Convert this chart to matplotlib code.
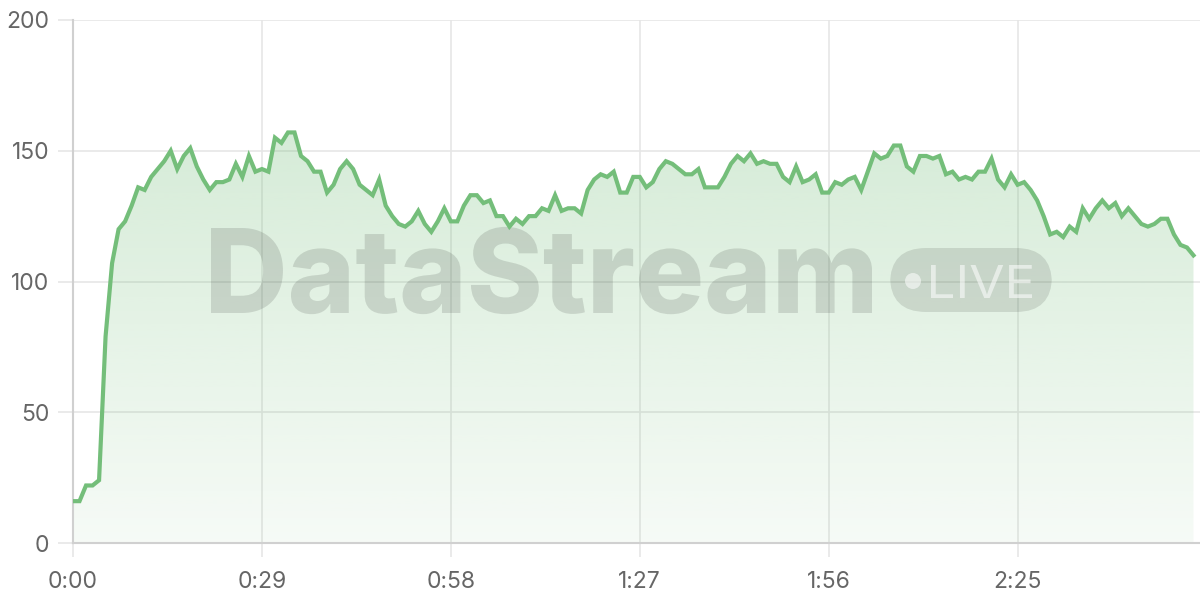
import numpy as np
import matplotlib
matplotlib.use("Agg")
import matplotlib.pyplot as plt
from matplotlib.patches import FancyBboxPatch, Circle, PathPatch
from matplotlib.textpath import TextPath
from matplotlib.font_manager import FontProperties
from matplotlib.transforms import Affine2D
from matplotlib.colors import to_rgb

# valores por segundo
valores = [16, 16, 22, 22, 24, 79, 107, 120, 123, 129,
           136, 135, 140, 143, 146, 150, 143, 148, 151, 144,
           139, 135, 138, 138, 139, 145, 140, 148, 142, 143,
           142, 155, 153, 157, 157, 148, 146, 142, 142, 134,
           137, 143, 146, 143, 137, 135, 133, 139, 129, 125,
           122, 121, 123, 127, 122, 119, 123, 128, 123, 123,
           129, 133, 133, 130, 131, 125, 125, 121, 124, 122,
           125, 125, 128, 127, 133, 127, 128, 128, 126, 135,
           139, 141, 140, 142, 134, 134, 140, 140, 136, 138,
           143, 146, 145, 143, 141, 141, 143, 136, 136, 136,
           140, 145, 148, 146, 149, 145, 146, 145, 145, 140,
           138, 144, 138, 139, 141, 134, 134, 138, 137, 139,
           140, 135, 142, 149, 147, 148, 152, 152, 144, 142,
           148, 148, 147, 148, 141, 142, 139, 140, 139, 142,
           142, 147, 139, 136, 141, 137, 138, 135, 131, 125,
           118, 119, 117, 121, 119, 128, 124, 128, 131, 128,
           130, 125, 128, 125, 122, 121, 122, 124, 124, 118,
           114, 113, 110]
tiempo = np.arange(len(valores))

ticksX = [0, 29, 58, 87, 116, 145]
etiquetasX = ["0:00", "0:29", "0:58", "1:27", "1:56", "2:25"]
ticksY = [0, 50, 100, 150, 200]

verde = "#74be7a"
gris_grid = "#e6e6e6"
gris_texto = "#666666"


def TextoAjustado(ax, texto, x0, x1, ytop, ybase, peso, color, alfa):
    # texto como trazo, escalado a la caja en pixeles (origen arriba)
    tp = TextPath((0, 0), texto, size=100, prop=FontProperties(family="Inter", weight=peso))
    cap = TextPath((0, 0), "H", size=100, prop=FontProperties(family="Inter", weight=peso))
    ext = tp.get_extents()
    alto = cap.get_extents().y1
    sx = (x1 - x0) / ext.width
    sy = (ybase - ytop) / alto
    tr = Affine2D().translate(-ext.x0, 0).scale(sx, sy).translate(x0, 600 - ybase)
    pp = PathPatch(tr.transform_path(tp), transform=None, facecolor=color,
                   alpha=alfa, lw=0, zorder=3)
    ax.add_patch(pp)


fig = plt.figure(figsize=(12, 6), dpi=100)
ax = fig.add_axes([73/1200, 1-543/600, 1-73/1200, (543-20)/600])
ax.set_xlim(0, 173)
ax.set_ylim(0, 200)

# relleno con degradado
poly = ax.fill_between(tiempo, valores, 0, color="none", lw=0)
rgb = to_rgb(verde)
alfa = np.linspace(0.065, 0.36, 256)[:, None]
grad = np.zeros((256, 1, 4))
grad[..., :3] = rgb
grad[..., 3] = alfa
img = ax.imshow(grad, extent=[0, tiempo[-1], 0, 200], origin="lower",
                aspect="auto", zorder=1, interpolation="bilinear")
img.set_clip_path(poly.get_paths()[0], transform=ax.transData)

ax.plot(tiempo, valores, color=verde, lw=3, zorder=4, solid_joinstyle="miter")

# marca de agua
TextoAjustado(ax, "DataStream", 211, 872, 228, 313, "heavy", "black", 0.12)
pill = FancyBboxPatch((890/1200, 1-312/600), 162/1200, 64/600,
                      boxstyle="round,pad=0,rounding_size=0.03",
                      transform=fig.transFigure, facecolor="black",
                      alpha=0.11, lw=0, zorder=3, mutation_aspect=2)
ax.add_patch(pill)
ax.add_patch(Circle((913, 600-281), 8, transform=None, facecolor="white",
                    alpha=0.55, lw=0, zorder=3))
TextoAjustado(ax, "LIVE", 931, 1032, 265, 298, "normal", "white", 0.55)

ax.set_xticks(ticksX)
ax.set_xticklabels(etiquetasX)
ax.set_yticks(ticksY)
ax.grid(True, color=gris_grid, lw=1.2, zorder=0)
ax.set_axisbelow(True)
for s in ["top", "right"]:
    ax.spines[s].set_visible(False)
for s in ["left", "bottom"]:
    ax.spines[s].set_color("#d0d0d0")
    ax.spines[s].set_linewidth(1.5)
ax.tick_params(axis="y", length=11, width=1.2, color=gris_grid, pad=6,
               labelsize=16.5, labelcolor=gris_texto)
ax.tick_params(axis="x", length=10, width=1.2, color=gris_grid, pad=10,
               labelsize=16.5, labelcolor=gris_texto)
for lab in ax.get_xticklabels() + ax.get_yticklabels():
    lab.set_family("Inter")

fig.savefig("out.png", dpi=100)
